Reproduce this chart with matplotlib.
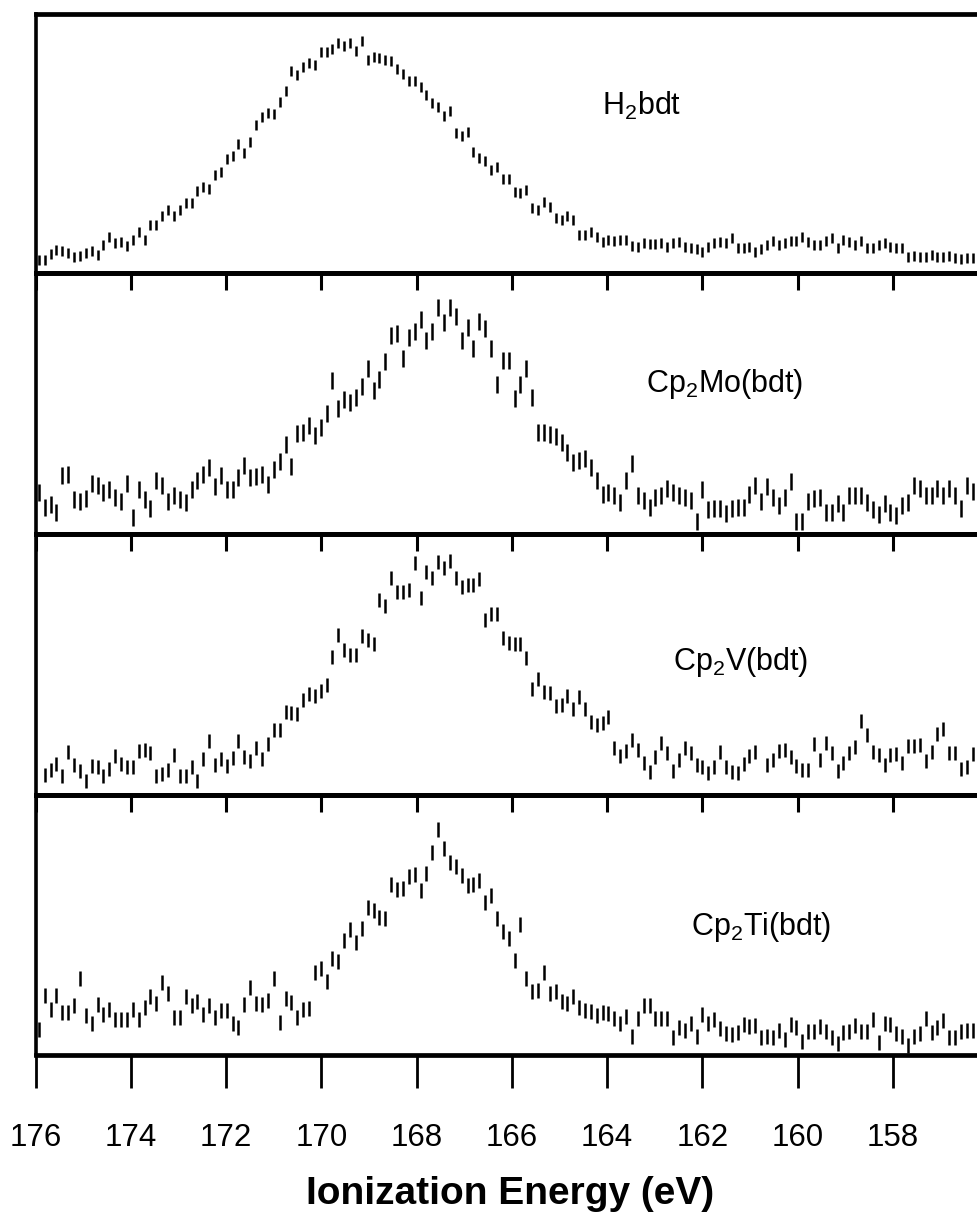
import numpy as np
import matplotlib
matplotlib.use('Agg')
import matplotlib.pyplot as plt

plt.rcParams['font.family'] = ['Liberation Sans', 'DejaVu Sans']
plt.rcParams['mathtext.fontset'] = 'custom'
plt.rcParams['mathtext.rm'] = 'Liberation Sans'
plt.rcParams['mathtext.default'] = 'rm'

# energia de ionizacion (eV), paso de medida ~0.123 eV
energy = np.round(175.93 - 0.1233 * np.arange(160), 3)

# intensidades (unidades arbitrarias)
h2bdt = [13, 13, 19, 23, 22, 20, 16, 17, 20, 22,
         18, 28, 36, 30, 31, 27, 33, 41, 33, 48,
         48, 57, 63, 57, 63, 70, 70, 82, 86, 84,
         98, 101, 114, 117, 129, 120, 131, 148, 156, 160,
         159, 171, 182, 202, 198, 206, 210, 208, 221, 221,
         224, 230, 227, 230, 222, 232, 213, 216, 215, 213,
         212, 204, 199, 192, 192, 186, 178, 170, 166, 157,
         162, 140, 137, 141, 121, 115, 112, 103, 106,
         94, 94, 81, 80, 83, 65, 63, 71, 66, 55,
         53, 57, 53, 38, 38, 41, 36, 31, 33, 32,
         33, 33, 27, 26, 30, 29, 29, 30, 26, 30,
         31, 26, 25, 24, 21, 26, 30, 31, 30, 35,
         25, 25, 26, 21, 24, 28, 32, 28, 30, 32,
         32, 36, 31, 28, 28, 32, 35, 25, 33, 31,
         28, 32, 25, 25, 28, 30, 26, 25, 25, 16,
         17, 16, 16, 18, 16, 16, 17, 15, 14, 15, 15]

cp2mo = [42, 27, 30, 22, 59, 60, 35, 33, 36, 51,
         49, 42, 45, 37, 33, 51, 17, 45, 35, 26,
         54, 49, 33, 39, 35, 32, 45, 54, 60, 67,
         48, 59, 45, 45, 57, 69, 57, 58, 60, 50,
         65, 73, 90, 68, 101, 102, 109, 99, 107, 121,
         154, 126, 135, 132, 137, 148, 166, 144, 155, 173,
         199, 201, 176, 197, 203, 215, 194, 203, 227, 212,
         227, 218, 194, 207, 186, 213, 206, 186, 150,
         174, 174, 136, 150, 166, 137, 102, 102, 100, 98,
         92, 82, 72, 74, 76, 67, 54, 40, 42, 39,
         32, 54, 71, 39, 34, 27, 37, 39, 46, 42,
         39, 37, 34, 13, 45, 25, 26, 26, 21, 26,
         27, 27, 40, 49, 33, 48, 37, 29, 37, 53,
         13, 13, 33, 36, 37, 22, 22, 31, 22, 39,
         39, 39, 32, 25, 20, 31, 22, 19, 29, 32,
         49, 46, 39, 39, 46, 39, 46, 39, 26, 49, 43]

# Cp2V empieza un punto despues (159 puntos, uno sin dato)
cp2v = [20, 25, 31, 19, 43, 30, 24, 14, 29, 28,
        19, 26, 39, 31, 28, 28, 44, 45, 42, 19,
        21, 25, 40, 19, 19, 28, 14, 36, 54, 30,
        36, 29, 37, 54, 38, 34, 47, 36, 51, 65,
        65, 83, 82, 81, 95, 101, 99, 104, 110, 138,
        160, 145, 140, 140, 159, 155, 151, 195, 189, 217,
        203, 203, 205, 232, 197, 223, 217, 233, 227, 234,
        217, 208, 210, 210, 216, 175, 181, 181,
        157, 152, 151, 151, 137, 106, 116, 103, 102, 89,
        90, 99, 86, 98, 86, 73, 70, 72, 78, 47,
        39, 44, 55, 45, 32, 23, 38, 52, 42, 24,
        35, 47, 42, 30, 28, 22, 28, 43, 28, 23,
        22, 31, 39, 43, np.nan, 30, 35, 44, 45, 38,
        29, 25, 25, 51, 35, 52, 42, 24, 32, 42,
        48, 74, 60, 43, 40, 30, 40, 41, 32, 49,
        49, 50, 34, 43, 61, 66, 42, 42, 26, 28, 41]

cp2ti = [26, 60, 46, 60, 43, 43, 50, 77, 40, 32,
         51, 41, 46, 36, 36, 36, 46, 36, 48, 59,
         52, 73, 62, 38, 38, 59, 50, 54, 41, 50,
         38, 45, 45, 32, 28, 51, 68, 52, 51, 55,
         77, 33, 57, 53, 38, 46, 47, 83, 87, 74,
         97, 94, 115, 126, 113, 127, 148, 145, 138, 137,
         171, 166, 167, 179, 181, 165, 182, 203, 226, 207,
         193, 189, 180, 170, 171, 175, 153, 160, 137,
         124, 117, 95, 131, 77, 64, 65, 83, 62, 64,
         54, 52, 59, 48, 45, 44, 40, 43, 42, 37,
         32, 39, 19, 37, 50, 50, 37, 37, 37, 18,
         28, 25, 32, 19, 41, 32, 36, 27, 22, 21,
         23, 31, 29, 30, 18, 19, 18, 25, 16, 31,
         28, 14, 24, 24, 29, 24, 18, 12, 23, 24,
         30, 24, 24, 36, 13, 32, 31, 22, 19, 10,
         19, 22, 37, 23, 28, 35, 18, 18, 24, 25, 25]

# barras de error (+/-) por espectro
errores = [5, 8.5, 7, 7.5]

etiquetas = [r'H$_2$bdt', r'Cp$_2$Mo(bdt)', r'Cp$_2$V(bdt)', r'Cp$_2$Ti(bdt)']
tick_vals = [176, 174, 172, 170, 168, 166, 164, 162, 160, 158]
tick_labels = ['176', '174', '172', '170', '168', '166', '164', '162', '160', '158']

series = [(energy, h2bdt), (energy, cp2mo), (energy[1:], cp2v), (energy, cp2ti)]

# geometria en pixeles
W, H = 977, 1219
bordes = [14, 273, 534, 795, 1055]
left = 35.5
label_pos = [(602, 115), (646, 392), (673, 670), (691, 935)]

fig = plt.figure(figsize=(W / 100, H / 100), dpi=100)

for i, (x, y) in enumerate(series):
    top, bot = bordes[i], bordes[i + 1]
    ax = fig.add_axes([left / W, 1 - bot / H, 1 - left / W, (bot - top) / H])
    ax.errorbar(x, y, yerr=errores[i], fmt='none', ecolor='black',
                elinewidth=1.8, capsize=0)
    ax.set_xlim(176, 176 - (W - left) / 47.63)
    ax.set_ylim(0, bot - top)
    ax.set_yticks([])
    ax.spines['right'].set_visible(False)
    for s in ['top', 'bottom']:
        ax.spines[s].set_linewidth(3.4)
    ax.spines['left'].set_linewidth(2.6)
    ax.set_xticks(tick_vals)
    if i == 3:
        ax.set_xticklabels(tick_labels)
        ax.tick_params(axis='x', direction='out', length=24, width=2.0,
                       pad=25, labelsize=22.5)
    else:
        ax.tick_params(axis='x', bottom=False, labelbottom=False)
    if i > 0:
        sec = ax.secondary_xaxis('top')
        sec.set_xticks(tick_vals)
        sec.tick_params(direction='in', length=12.5, width=2.2, labeltop=False)
        sec.spines['top'].set_linewidth(3.4)
    lx, ly = label_pos[i]
    fig.text(lx / W, 1 - ly / H, etiquetas[i], fontsize=22,
             ha='left', va='baseline')

fig.text(510 / W, 1 - 1204 / H, 'Ionization Energy (eV)', fontsize=28,
         fontweight='bold', ha='center', va='baseline')

fig.savefig('out.png', dpi=100)
